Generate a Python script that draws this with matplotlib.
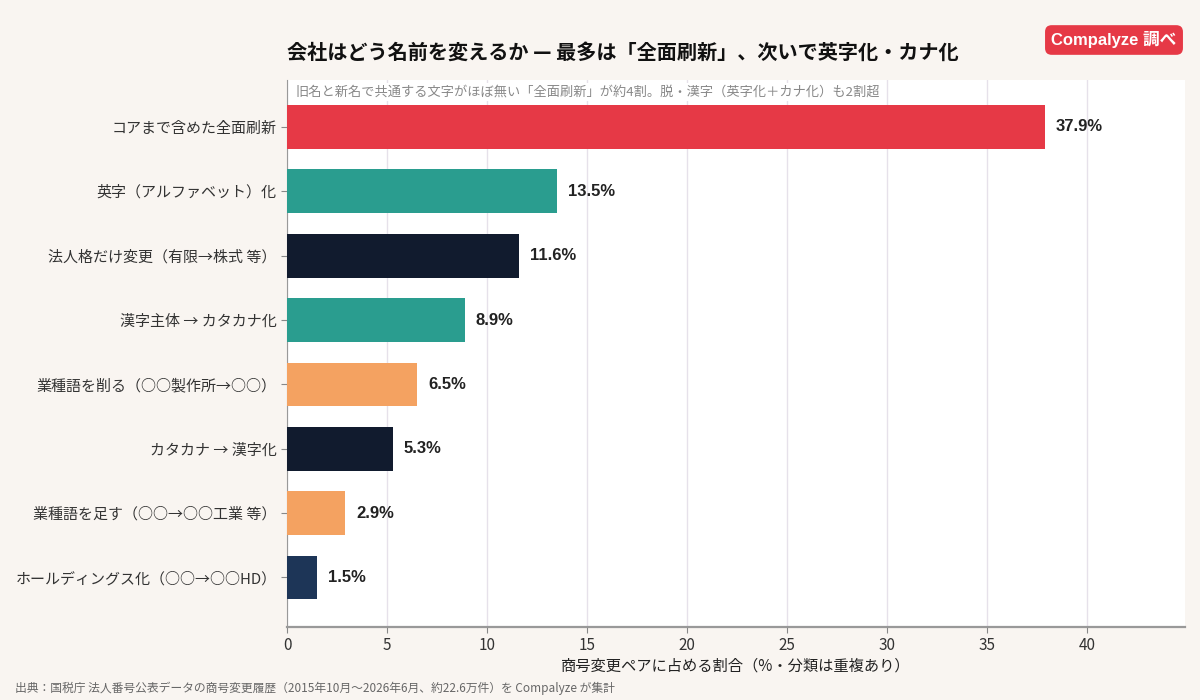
import matplotlib
matplotlib.use("Agg")
import matplotlib.pyplot as plt

plt.rcParams['font.family'] = ['Noto Sans CJK JP', 'DejaVu Sans']

# データ（上から順）
categories = [
    'コアまで含めた全面刷新',
    '英字（アルファベット）化',
    '法人格だけ変更（有限→株式 等）',
    '漢字主体 → カタカナ化',
    '業種語を削る（○○製作所→○○）',
    'カタカナ → 漢字化',
    '業種語を足す（○○→○○工業 等）',
    'ホールディングス化（○○→○○HD）',
]
shares = [37.9, 13.5, 11.6, 8.9, 6.5, 5.3, 2.9, 1.5]
bar_colors = ['#E63946', '#2A9D8F', '#111B2E', '#2A9D8F',
              '#F4A261', '#111B2E', '#F4A261', '#1D3557']

title = '会社はどう名前を変えるか — 最多は「全面刷新」、次いで英字化・カナ化'
subtitle = '旧名と新名で共通する文字がほぼ無い「全面刷新」が約4割。脱・漢字（英字化＋カナ化）も2割超'
xlabel = '商号変更ペアに占める割合（%・分類は重複あり）'
source = '出典：国税庁 法人番号公表データの商号変更履歴（2015年10月〜2026年6月、約22.6万件）を Compalyze が集計'

bg = '#F9F5F1'
fig = plt.figure(figsize=(12, 7), dpi=100, facecolor=bg)
ax = fig.add_axes([287 / 1200, 1 - 627 / 700, (1185 - 287) / 1200, (627 - 80) / 700])
ax.set_facecolor('white')

y = list(range(len(categories)))
ax.barh(y, shares, height=0.68, color=bar_colors, zorder=3)
for yi, v in zip(y, shares):
    ax.text(v + 0.55, yi, f'{v:.1f}%', va='center', ha='left',
            fontsize=12, fontweight='bold', color='#222222', zorder=4,
            family=['Liberation Sans', 'DejaVu Sans'])

ax.set_yticks(y)
ax.set_yticklabels(categories, fontsize=10.8, color='#333333')
ax.set_ylim(7.77, -0.73)
ax.set_xlim(0, 44.9)
ax.set_xticks(range(0, 45, 5))
ax.tick_params(axis='x', labelsize=11, colors='#333333', length=4, color='#888888')
ax.tick_params(axis='y', length=4, color='#888888')
ax.grid(axis='x', color='#E6E1EA', linewidth=1, zorder=0)

for s in ['top', 'right']:
    ax.spines[s].set_visible(False)
ax.spines['left'].set_color('#999999')
ax.spines['bottom'].set_color('#999999')
ax.spines['bottom'].set_linewidth(1.6)

ax.set_xlabel(xlabel, fontsize=11, color='#222222', labelpad=2)

ax.text(0.009, 0.99, subtitle, transform=ax.transAxes, ha='left', va='top',
        fontsize=9.5, color='#888888', zorder=5,
        bbox=dict(facecolor='white', edgecolor='none', pad=1.5))

fig.text(287 / 1200, 1 - 52 / 700, title, ha='left', va='center',
         fontsize=14.5, fontweight='bold', color='#111111')

fig.text(1114 / 1200, 1 - 40 / 700, 'Compalyze 調べ', ha='center', va='center',
         fontsize=12, fontweight='bold', color='white',
         family=['Liberation Sans', 'Noto Sans CJK JP'],
         bbox=dict(boxstyle='round,pad=0.38,rounding_size=0.4',
                   facecolor='#E63946', edgecolor='none'))

fig.text(15 / 1200, 1 - 688 / 700, source, ha='left', va='center',
         fontsize=8.5, color='#666666')

fig.savefig('out.png', dpi=100, facecolor=bg)
